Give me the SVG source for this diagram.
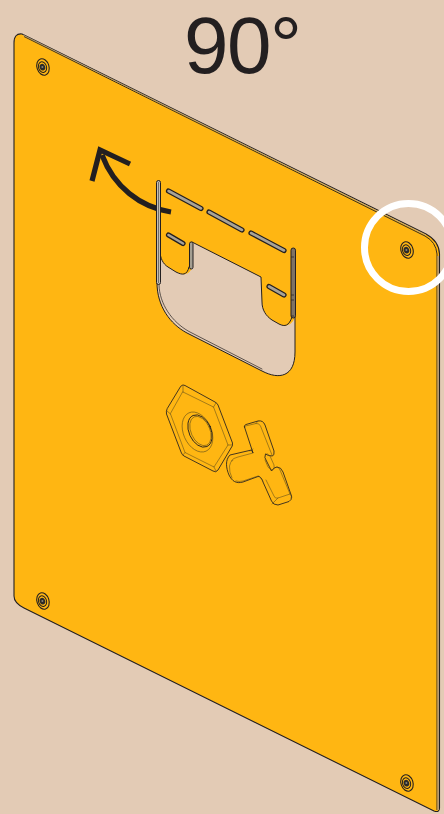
<svg xmlns="http://www.w3.org/2000/svg" width="444" height="814" viewBox="0 0 444 814">
<style>
.l{fill:none;stroke:#231f20;stroke-width:.85;stroke-linejoin:round;stroke-linecap:round}
.t{fill:none;stroke:#5a4a1c;stroke-width:.55;stroke-linejoin:round;stroke-linecap:round}
.so{fill:none;stroke:#231f20;stroke-width:5.200;stroke-linecap:round}
.si{fill:none;stroke:#a9a396;stroke-width:2.600;stroke-linecap:round}
.ar{fill:none;stroke:#231f20;stroke-width:5.200}
</style>
<defs>
<g id="screw">
<ellipse rx="6" ry="8.400" transform="rotate(-18)" fill="none" stroke="#231f20" stroke-width="1.100"/>
<ellipse cx="-.5" rx="4" ry="5.400" transform="rotate(-18)" fill="none" stroke="#231f20" stroke-width="1"/>
<ellipse cx="-.6" rx="2.800" ry="3.400" transform="rotate(-18)" fill="#2c2b2a"/>
<circle cx="-.6" r="1" fill="#8a8578"/>
</g>
</defs>
<rect width="444" height="814" fill="#e3cbb5"/>
<text x="184" y="73" font-family="Liberation Sans, Arial, sans-serif" font-size="80" letter-spacing="-1.500" fill="#231f20">90°</text>
<g id="plate">
<path d="M22 34 L426 234 Q439 241 439.500 254 L439.500 808 Q439.500 813 434 811 L24 608 Q14 603 14 596 L14 43 Q14 33 22 34Z" fill="#ffb612" stroke="#231f20" stroke-width="1.100"/>
<path d="M24 36.500 L425 236 Q436 242 437 254 L437 810" fill="none" stroke="#231f20" stroke-width=".9"/>
<path d="M438.200 256 V810" stroke="#b79b74" stroke-width="1.600" fill="none"/>
<path d="M23 35 L426 235" fill="none" stroke="#b9a88e" stroke-width=".8"/>
</g>
<g id="screws">
<use href="#screw" x="43" y="67"/>
<use href="#screw" x="407" y="250"/>
<use href="#screw" x="43" y="601"/>
<use href="#screw" x="407" y="783"/>
</g>
<g id="arrow">
<path class="ar" d="M171 212 C140 207 114 187 102 155"/>
<path class="ar" d="M130 164 L100 150 L92 181"/>
</g>
<g id="cutout">
<path d="M157 283 C157 306 170 324 187 333 L262 371 C279 380 295 377 295 352 L295 317 C292 326 285 327 279 324 L272 320 C266 316 262 310 262 302 L261 277 L192 242 L192 267 C190 276 182 275 176 272 L168 267 C163 264 160 258 160 251 L160 200 L157 200 Z" fill="#e3cbb5"/>
<path class="l" d="M157 283 C157 306 170 324 187 333 L262 371 C279 380 295 377 295 352 L295 317" style="stroke-width:1"/>
<path class="l" d="M159 285 C159.500 304 172 322 189 331.500 L262 369" style="stroke-width:.7"/>
<path class="l" d="M292 317 C289 326 285 327 279 324 L272 320 C266 316 262 310 262 302 L261 277 L192 242" style="stroke-width:1"/>
<path class="l" d="M189 267 C187 276 182 275 176 272 L168 267 C163 264 160 258 160 251" style="stroke-width:1"/>
<rect x="156.500" y="180.500" width="4" height="104" rx="2" fill="#c4bfb3" stroke="#231f20" stroke-width="1"/>
<path d="M158.500 182 V283" stroke="#231f20" stroke-width=".5"/>
<rect x="189.500" y="242" width="3.500" height="27" rx="1.700" fill="#a59f92" stroke="#231f20" stroke-width="1"/>
<rect x="291" y="248" width="4.500" height="70" rx="2.200" fill="#7f7263" stroke="#231f20" stroke-width="1"/>
<path d="M291 257 h3 M291 295 h3 M291 300 h3 M291 316 h3" stroke="#231f20" stroke-width=".7"/>
<path class="so" d="M168.500 191 L201 208.500 M209 212 L242 230 M251 233 L284 250.500 M168.500 235 L183 243.500 M269 286.500 L284 295"/>
<path class="si" d="M168.500 191 L201 208.500 M209 212 L242 230 M251 233 L284 250.500 M168.500 235 L183 243.500 M269 286.500 L284 295"/>
</g>
<g id="nut">
<path class="l" d="M181 386 Q183 384 185 385.500 L215 402 Q217 403 218 405 L232.500 443 Q233 446 231 448 L218 470 Q216 473 213 471 L184 456 Q182 455 181 452 L166.500 414 Q166 411 167 409 Z"/>
<path class="t" d="M183 392 L213.500 407 L228 445 L214 467 L185 452.500 L170.500 414 Z"/>
<path class="t" d="M183 386 V392 M167 411 L170.500 414 M216 403 L213.500 407 M232.500 445 H228 M216 471 L214 467 M183 455 L185 452.500"/>
<ellipse cx="197.500" cy="432" rx="14" ry="21" transform="rotate(-24 197.500 432)" class="t"/>
<ellipse cx="200" cy="431" rx="11" ry="17" transform="rotate(-24 200 431)" class="l"/>
<ellipse cx="200.500" cy="431" rx="9.500" ry="15.500" transform="rotate(-24 200.500 431)" class="t"/>
</g>
<g id="key">
<path class="l" d="M244.500 427 Q244 425 246 424.500 L258 421 Q263 420 265 425 L274 451 Q274.500 455 272.500 456 Q268 456 265.500 454 Q264 458 266 460 L271.500 471 Q274 467 277 467 Q281 467 283 472 L291.500 496 Q292 500 289 501.500 L278 505 Q273 505 271.500 501 L263 482 Q261 476 258 476.500 L243 482 C236 484 232 481 229 475 C226 468 225 460 230 455 L251.500 450 L253 453 L244.500 427 Z"/>
<path class="t" d="M245.500 426 L256 423.500 Q259 423 260.500 426 L272 455 M258 421 L256 423.500 M250 451 L253 449"/>
<path class="t" d="M231 461 Q233 458 238 457 L253 453 M232 478 Q229 472 229.500 466 Q230 462 233 460"/>
<path class="t" d="M236 481 Q239 482 243 481 L258 476 M263 481 L259 476"/>
<path class="t" d="M265.500 454 Q268 453 270 456 L274 465 Q275 469 272.500 470 Q270 470 268 467 L265 460"/>
<path class="t" d="M277 467 Q279 467 280 470 L290 494 L278 498 Q275 499 274 496 L266 480 M272 504 L278 498 M292 497 L290 494"/>
</g>
<circle id="ring" cx="408.500" cy="247.500" r="44" fill="none" stroke="#fff" stroke-width="7"/>
</svg>
